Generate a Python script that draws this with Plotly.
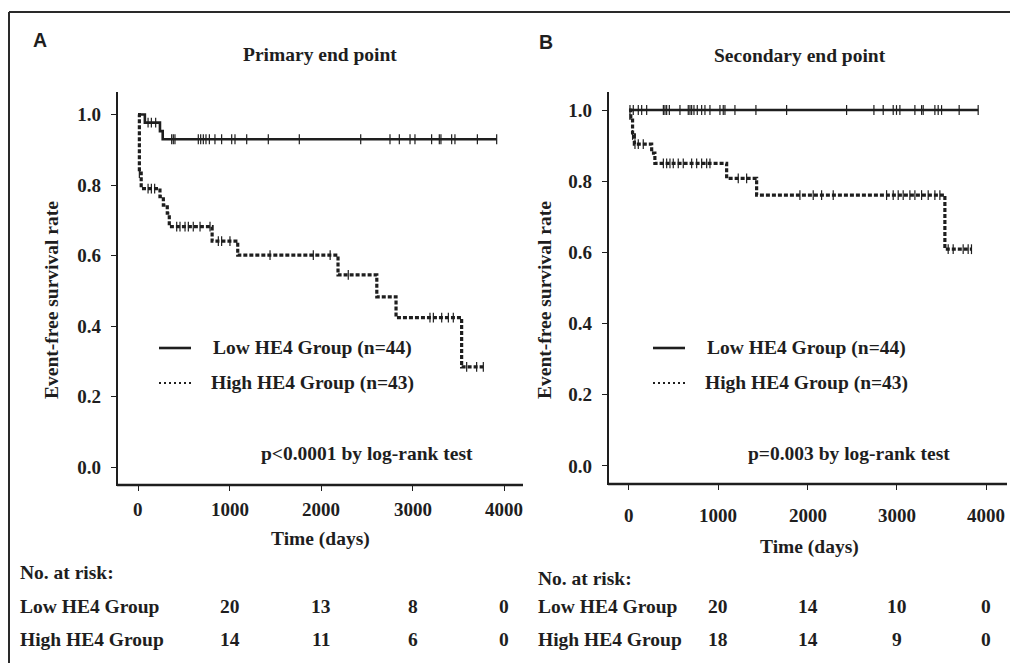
import plotly.graph_objects as go

# ---------------- data ----------------
a_low_times = [0, 75, 240, 270]
a_low_surv = [1.0, 0.977, 0.953, 0.930]
a_low_end = 3920
a_low_censor = [110, 146, 193, 368, 386, 404, 659, 685, 714, 743, 780, 841, 914, 1024, 1060,
                1188, 1424, 1763, 2434, 2754, 2856, 2973, 3027, 3209, 3293, 3311, 3428, 3464,
                3709, 3920]

a_high_times = [0, 15, 35, 240, 277, 320, 342, 810, 1090, 2186, 2610, 2820, 3537]
a_high_surv = [1.0, 0.834, 0.79, 0.767, 0.743, 0.72, 0.682, 0.641, 0.601, 0.545, 0.483, 0.424, 0.284]
a_high_end = 3774
a_high_censor = [15, 110, 146, 182, 423, 459, 514, 550, 604, 678, 787, 878, 914, 1005, 1443,
                 1916, 2100, 2298, 3191, 3228, 3319, 3392, 3446, 3592, 3701, 3774]

b_low_times = [0]
b_low_surv = [1.0]
b_low_end = 3912
b_low_censor = [11, 48, 104, 142, 198, 385, 403, 422, 452, 571, 664, 683, 702, 728, 765, 814,
                851, 907, 1019, 1056, 1075, 1187, 1422, 1766, 2438, 2744, 2848, 2960, 2997,
                3035, 3203, 3278, 3296, 3427, 3464, 3502, 3699, 3912]

b_high_times = [0, 20, 40, 60, 254, 290, 1094, 1430, 3539]
b_high_surv = [1.0, 0.977, 0.930, 0.904, 0.879, 0.850, 0.808, 0.761, 0.609]
b_high_end = 3837
b_high_censor = [40, 67, 104, 160, 385, 422, 459, 496, 552, 608, 702, 758, 814, 870, 907,
                 1224, 1318, 1915, 2064, 2158, 2288, 2886, 2960, 3016, 3072, 3147, 3203, 3278,
                 3352, 3427, 3483, 3576, 3632, 3744, 3800, 3837]

x_ticks = [0, 1000, 2000, 3000, 4000]
y_ticks = [0.0, 0.2, 0.4, 0.6, 0.8, 1.0]
risk_times = [1000, 2000, 3000, 4000]
a_risk_low = [20, 13, 8, 0]
a_risk_high = [14, 11, 6, 0]
b_risk_low = [20, 14, 10, 0]
b_risk_high = [18, 14, 9, 0]

group_low = "Low HE4 Group"
group_high = "High HE4 Group"
legend_low = "Low HE4 Group (n=44)"
legend_high = "High HE4 Group (n=43)"

# ---------------- helpers ----------------
W, H = 1010, 663
SERIF = "Liberation Serif"
INK = "#1e1e1e"


def px(x):
    return x / W


def py(y):
    return 1 - y / H


def step_value(times, surv, t):
    v = surv[0]
    for tt, ss in zip(times, surv):
        if tt <= t:
            v = ss
    return v


fig = go.Figure()


def add_curve(times, surv, end, censor, xa, ya, dashed):
    xs = list(times) + [end]
    ys = list(surv) + [surv[-1]]
    line = dict(color=INK, width=3.2 if dashed else 2.6, shape="hv")
    if dashed:
        line["dash"] = "4px,2px"
    fig.add_trace(go.Scatter(x=xs, y=ys, mode="lines", line=line, xaxis=xa, yaxis=ya,
                             showlegend=False, hoverinfo="skip"))
    cy = [step_value(times, surv, t) for t in censor]
    fig.add_trace(go.Scatter(x=censor, y=cy, mode="markers", xaxis=xa, yaxis=ya,
                             marker=dict(symbol="line-ns", size=7,
                                         line=dict(color=INK, width=1.2)),
                             showlegend=False, hoverinfo="skip"))


add_curve(a_low_times, a_low_surv, a_low_end, a_low_censor, "x", "y", False)
add_curve(a_high_times, a_high_surv, a_high_end, a_high_censor, "x", "y", True)
add_curve(b_low_times, b_low_surv, b_low_end, b_low_censor, "x2", "y2", False)
add_curve(b_high_times, b_high_surv, b_high_end, b_high_censor, "x2", "y2", True)

tickfont = dict(family=SERIF, size=19, color=INK, weight="bold")
common_x = dict(tickvals=x_ticks, ticks="outside", ticklen=5, tickwidth=1.2, tickcolor=INK,
                showline=True, linecolor=INK, linewidth=2.2, showgrid=False, zeroline=False,
                showticklabels=False)
common_y = dict(tickvals=y_ticks, tickformat=".1f", ticks="outside", ticklen=5, tickwidth=1.2,
                tickcolor=INK, showline=True, linecolor=INK, linewidth=2.2, showgrid=False,
                zeroline=False, tickfont=tickfont, ticklabelstandoff=6)

A_X = (118, 523)
B_X = (609, 1007)
A_Y = (92, 484)
B_Y = (92, 483)

fig.update_layout(
    width=W, height=H, margin=dict(l=0, r=0, t=0, b=0),
    paper_bgcolor="white", plot_bgcolor="white",
    xaxis=dict(domain=[px(A_X[0]), px(A_X[1])], range=[-218.6, 4207.7], anchor="y", **common_x),
    yaxis=dict(domain=[py(A_Y[1]), py(A_Y[0])], range=[-0.048, 1.064], anchor="x", **common_y),
    xaxis2=dict(domain=[px(B_X[0]), px(B_X[1])], range=[-224, 4235], anchor="y2", **common_x),
    yaxis2=dict(domain=[py(B_Y[1]), py(B_Y[0])], range=[-0.0478, 1.0506], anchor="x2", **common_y),
)

txt = dict(family=SERIF, size=19.5, color=INK, weight="bold")
ann = []


def note(text, x, y, xanchor="center", angle=0, font=txt, xref="paper"):
    ann.append(dict(text=text, x=x, y=y, xref=xref, yref="paper", xanchor=xanchor,
                    yanchor="middle", showarrow=False, font=font, textangle=angle))


label_font = dict(family="Liberation Sans", size=19.5, color=INK, weight="bold")
note("A", px(40), py(40), font=label_font)
note("B", px(546), py(42), font=label_font)
note("Primary end point", px(320), py(54))
note("Secondary end point", px(800), py(55))
note("Event-free survival rate", px(52), py(300), angle=-90)
note("Event-free survival rate", px(545), py(300), angle=-90)
note("Time (days)", px(320), py(539))
note("Time (days)", px(809), py(547))
note("p<0.0001 by log-rank test", px(367), py(453))
note("p=0.003 by log-rank test", px(849), py(453))

# x tick labels, placed by the axes' own scales
for t in x_ticks:
    note(str(t), t, py(509), xref="x", font=tickfont)
    note(str(t), t, py(515), xref="x2", font=tickfont)

shapes = []
# x-axis baselines
for (x0, x1), (_, yb) in [(A_X, A_Y), (B_X, B_Y)]:
    shapes.append(dict(type="line", xref="paper", yref="paper", x0=px(x0 - 1), x1=px(x1),
                       y0=py(yb + 1), y1=py(yb + 1), line=dict(color=INK, width=2.4)))

# legends
for x0, x1, tx_low, tx_high in [(159, 191, 211, 209), (653, 685, 705, 703)]:
    shapes.append(dict(type="line", xref="paper", yref="paper", x0=px(x0), x1=px(x1),
                       y0=py(348), y1=py(348), line=dict(color=INK, width=2.6)))
    shapes.append(dict(type="line", xref="paper", yref="paper", x0=px(x0), x1=px(x1),
                       y0=py(383), y1=py(383), line=dict(color=INK, width=2, dash="2px,3px")))
    note(legend_low, px(tx_low), py(348), xanchor="left")
    note(legend_high, px(tx_high), py(383), xanchor="left")

# risk tables
note("No. at risk:", px(18), py(572), xanchor="left")
note(group_low, px(18), py(606), xanchor="left")
note(group_high, px(18), py(639), xanchor="left")
note("No. at risk:", px(536), py(578), xanchor="left")
note(group_low, px(536), py(606), xanchor="left")
note(group_high, px(536), py(639), xanchor="left")
for t, lo, hi in zip(risk_times, a_risk_low, a_risk_high):
    note(str(lo), t, py(606), xref="x")
    note(str(hi), t, py(639), xref="x")
for t, lo, hi in zip(risk_times, b_risk_low, b_risk_high):
    note(str(lo), t, py(606), xref="x2")
    note(str(hi), t, py(639), xref="x2")

# outer frame (top and left edges)
shapes.append(dict(type="line", xref="paper", yref="paper", x0=px(9), x1=1, y0=py(12), y1=py(12),
                   line=dict(color="#2a2a2a", width=2)))
shapes.append(dict(type="line", xref="paper", yref="paper", x0=px(9), x1=px(9), y0=py(12), y1=0,
                   line=dict(color="#2a2a2a", width=2)))

fig.update_layout(annotations=ann, shapes=shapes)
fig.write_html("out.html", config={"displayModeBar": False},
               post_script="document.body.style.margin='0';document.body.style.overflow='hidden';")
